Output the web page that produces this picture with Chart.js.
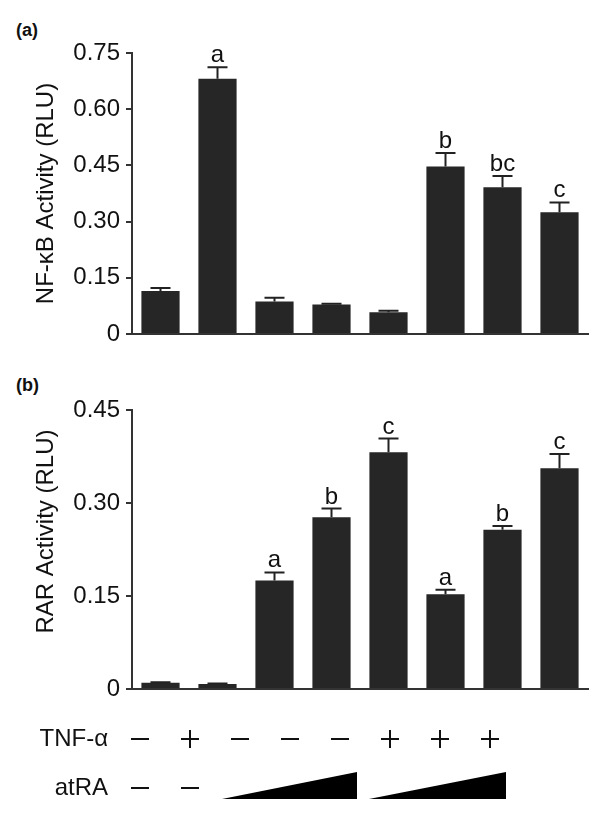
<!DOCTYPE html>
<html>
<head>
<meta charset="utf-8">
<script src="https://cdn.jsdelivr.net/npm/chart.js@4/dist/chart.umd.min.js"></script>
<style>
  body { margin: 0; background: #fff; }
  #wrap { position: relative; width: 600px; height: 819px; font-family: "Liberation Sans", Arial, sans-serif; }
  canvas { position: absolute; left: 0; }
  .panel { position: absolute; left: 16px; font-weight: bold; font-size: 18px; line-height: 1; color: #111; }
</style>
</head>
<body>
<div id="wrap">
  <div class="panel" style="top:21px">(a)</div>
  <div class="panel" style="top:376px">(b)</div>
  <canvas id="chart-a" width="600" height="360" style="top:0"></canvas>
  <canvas id="chart-b" width="600" height="459" style="top:360px"></canvas>
</div>
<script>
// treatment groups
const tnf = ['–', '+', '–', '–', '–', '+', '+', '+'];
const atra = [0, 0, 1, 2, 3, 1, 2, 3];
const groups = tnf.map((t, i) => 'TNF' + t + ' atRA' + atra[i]);

// (a) NF-kB
const nfkbValues = [0.115, 0.681, 0.087, 0.079, 0.058, 0.447, 0.392, 0.325];
const nfkbErrors = [0.008, 0.031, 0.010, 0.002, 0.004, 0.036, 0.030, 0.026];
const nfkbLetters = ['', 'a', '', '', '', 'b', 'bc', 'c'];
const nfkbTicks = [0, 0.15, 0.30, 0.45, 0.60, 0.75];

// (b) RAR
const rarValues = [0.010, 0.008, 0.175, 0.277, 0.382, 0.153, 0.257, 0.356];
const rarErrors = [0.001, 0.001, 0.013, 0.014, 0.022, 0.007, 0.006, 0.023];
const rarLetters = ['', '', 'a', 'b', 'c', 'a', 'b', 'c'];
const rarTicks = [0, 0.15, 0.30, 0.45];

const ink = '#222';
const barColor = '#262626';
const font = '"Liberation Sans", Arial, sans-serif';

const errorBars = {
    id: 'errorBars',
    afterDatasetsDraw(chart, args, opts) {
        const ctx = chart.ctx;
        const meta = chart.getDatasetMeta(0);
        const y = chart.scales.y;
        ctx.save();
        ctx.strokeStyle = ink;
        ctx.lineWidth = 2;
        ctx.fillStyle = '#111';
        ctx.font = '24px ' + font;
        ctx.textAlign = 'center';
        ctx.textBaseline = 'alphabetic';
        meta.data.forEach((bar, i) => {
            const v = opts.values[i];
            const top = y.getPixelForValue(v + opts.errors[i]);
            const base = y.getPixelForValue(v);
            ctx.beginPath();
            ctx.moveTo(bar.x, base);
            ctx.lineTo(bar.x, top);
            ctx.moveTo(bar.x - 10, top);
            ctx.lineTo(bar.x + 10, top);
            ctx.stroke();
            if (opts.letters[i]) ctx.fillText(opts.letters[i], bar.x, top - 5);
        });
        ctx.restore();
    }
};

// treatment rows under panel b
const treatmentRows = {
    id: 'treatmentRows',
    afterDraw(chart) {
        const ctx = chart.ctx;
        const rowTnf = chart.chartArea.bottom + 50;
        const rowAtra = chart.chartArea.bottom + 99;
        ctx.save();
        ctx.fillStyle = '#111';
        ctx.strokeStyle = '#111';
        ctx.font = '24px ' + font;
        ctx.textAlign = 'right';
        ctx.textBaseline = 'middle';
        ctx.fillText('TNF-α', 108, rowTnf);
        ctx.fillText('atRA', 108, rowAtra);
        ctx.lineWidth = 2;
        tnf.forEach((s, i) => {
            const cx = 140 + 50 * i;
            ctx.beginPath();
            ctx.moveTo(cx - 9, rowTnf);
            ctx.lineTo(cx + 9, rowTnf);
            if (s === '+') {
                ctx.moveTo(cx, rowTnf - 9);
                ctx.lineTo(cx, rowTnf + 9);
            }
            ctx.stroke();
        });
        atra.forEach((d, i) => {
            if (d !== 0) return;
            const cx = 140 + 50 * i;
            ctx.beginPath();
            ctx.moveTo(cx - 9, rowAtra);
            ctx.lineTo(cx + 9, rowAtra);
            ctx.stroke();
        });
        ctx.fillStyle = '#000';
        [[222, 357], [369, 506]].forEach(([x0, x1]) => {
            ctx.beginPath();
            ctx.moveTo(x0, rowAtra + 11);
            ctx.lineTo(x1, rowAtra + 11);
            ctx.lineTo(x1, rowAtra - 16);
            ctx.closePath();
            ctx.fill();
        });
        ctx.restore();
    }
};

function makeChart(canvas, values, errors, letters, ticks, title, padTop, padBottom, extra) {
    return new Chart(canvas, {
        type: 'bar',
        data: {
            labels: groups,
            datasets: [{
                data: values,
                backgroundColor: barColor,
                borderWidth: 0,
                barPercentage: 0.67,
                categoryPercentage: 1
            }]
        },
        options: {
            responsive: false,
            animation: false,
            layout: { padding: { left: 0, right: 12, top: padTop, bottom: padBottom } },
            plugins: {
                legend: { display: false },
                tooltip: { enabled: false },
                errorBars: { values: values, errors: errors, letters: letters }
            },
            scales: {
                x: {
                    ticks: { display: false },
                    grid: { display: false },
                    border: { display: true, color: '#333', width: 2 },
                    afterFit: function(scale) { scale.height = 0; }
                },
                y: {
                    min: 0,
                    max: ticks[ticks.length - 1],
                    afterBuildTicks: function(scale) {
                        scale.ticks = ticks.map(v => ({ value: v }));
                    },
                    afterFit: function(scale) { scale.width = 132; },
                    ticks: {
                        color: '#111',
                        padding: 6,
                        font: { family: font, size: 24 },
                        callback: function(value) {
                            return value === 0 ? '0' : value.toFixed(2);
                        }
                    },
                    grid: {
                        drawOnChartArea: false,
                        drawTicks: true,
                        tickLength: 6,
                        color: '#333',
                        lineWidth: 2
                    },
                    border: { display: true, color: '#333', width: 2 },
                    title: {
                        display: true,
                        text: title,
                        color: '#111',
                        font: { family: font, size: 24 },
                        padding: { top: 32, bottom: 0 }
                    }
                }
            }
        },
        plugins: [errorBars].concat(extra)
    });
}

makeChart('chart-a', nfkbValues, nfkbErrors, nfkbLetters, nfkbTicks, 'NF-κB Activity (RLU)', 53, 26, []);
// leading en spaces lift the RAR title a little, as in the original
makeChart('chart-b', rarValues, rarErrors, rarLetters, rarTicks, '\u2002\u2002\u2002RAR Activity (RLU)', 50, 130, [treatmentRows]);
</script>
</body>
</html>
